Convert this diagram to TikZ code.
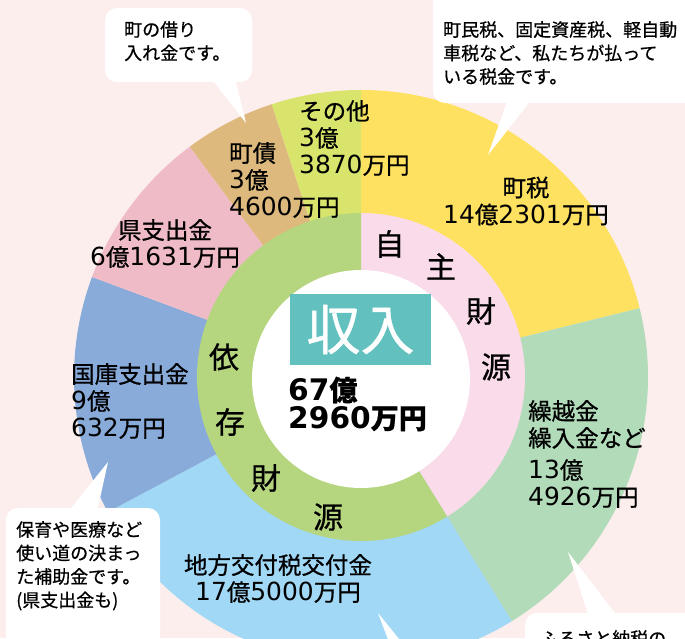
\documentclass[tikz,border=0pt]{standalone}
\usepackage{fontspec}
\setmainfont{Noto Sans CJK JP}[RawFeature={embolden=0.7}]
\newfontfamily\digitfont{DejaVu Sans}[Scale=1.06]
\newcommand\kazu[1]{{\digitfont#1}}
\definecolor{bgpink}{HTML}{FDEEEE}
\definecolor{yel}{HTML}{FFE161}
\definecolor{mint}{HTML}{B2DBBA}
\definecolor{sky}{HTML}{A0D8F5}
\definecolor{navy}{HTML}{88ABDA}
\definecolor{rose}{HTML}{EEBBC7}
\definecolor{tan}{HTML}{DEB97D}
\definecolor{lime}{HTML}{D8E46B}
\definecolor{pinkin}{HTML}{F9DBEA}
\definecolor{greenin}{HTML}{B5D67F}
\definecolor{tealbox}{HTML}{62C1BF}
\begin{document}
\begin{tikzpicture}[x=1pt,y=1pt, line join=round, line cap=round,
	lbl/.style={inner sep=0pt, font=\fontsize{23.5}{27}\selectfont},
	ringchar/.style={inner sep=0pt, font=\fontsize{30}{30}\selectfont},
	saybox/.style={fill=white, rounded corners=12pt},
	saytext/.style={inner sep=0pt, anchor=north west, align=left, font=\fontsize{18}{23.5}\selectfont}]
	\useasboundingbox (0,0) rectangle (685,638);
	\clip (0,0) rectangle (685,638);
	\fill[bgpink] (0,0) rectangle (685,638);
	\coordinate (O) at (361,261);
	\newdimen\R
	\R=287pt
	\foreach \a/\b/\c in
	{ 90/13.88/yel,
		13.88/-58.30/mint,
		-58.30/-151.92/sky,
		-151.92/-200.40/navy,
		-200.40/-233.37/rose,
		-233.37/-251.88/tan,
		-251.88/-270/lime}
	\fill[\c] (O) -- ++(\a:\R) arc[start angle=\a, end angle=\b, radius=\R] -- cycle;
	\fill[pinkin] (O) -- ++(90:164) arc[start angle=90, end angle=-58.30, radius=164] -- cycle;
	\fill[greenin] (O) -- ++(-58.30:164) arc[start angle=-58.30, end angle=-270, radius=164] -- cycle;
	\fill[white] (361,259) circle[radius=109];
	\node[fill=tealbox, minimum width=141pt, minimum height=71pt, inner sep=0pt, text=white, font=\fontsize{54}{54}\selectfont] (title) at (360.5,308.5) {収入};
	\node[inner sep=0pt, anchor=west, align=left, font=\bfseries\fontsize{28}{28}\selectfont] (total) at (288,234) {\kazu{67}億\\\kazu{2960}万円};
	\foreach \x/\y/\t in {389.5/394/自, 441/371.5/主, 481/327/財, 496/271/源, 224/281/依, 230/216/存, 266/160/財, 328/121/源}
	\node[ringchar] (ring-\x) at (\x,\y) {\t};
	\node[lbl, anchor=west, align=left] (other) at (299,500) {その他\\\kazu{3}億\\\kazu{3870}万円};
	\node[lbl, anchor=west, align=left] (bond) at (229,458) {町債\\\kazu{3}億\\\kazu{4600}万円};
	\node[lbl, align=center] (tax) at (526,437) {町税\\\kazu{14}億\kazu{2301}万円};
	\node[lbl, align=center] (pref) at (165,394.5) {県支出金\\\kazu{6}億\kazu{1631}万円};
	\node[lbl, anchor=west, align=left] (nat) at (71,237) {国庫支出金\\\kazu{9}億\\\kazu{632}万円};
	\node[lbl, anchor=west, align=left] (carry) at (528,184) {繰越金\\繰入金など\\[5pt]\kazu{13}億\\\kazu{4926}万円};
	\node[lbl, align=center] (grant) at (278,59.5) {地方交付税交付金\\\kazu{17}億\kazu{5000}万円};
	\fill[saybox] (105,556) rectangle (252,630);
	\fill[white] (211,560) -- (235,560) -- (246,515) -- cycle;
	\node[saytext] (say-bond) at (124,617) {町の借り\\入れ金です。};
	\fill[saybox] (433,535) rectangle (700,650);
	\fill[white] (508,539) -- (532,539) -- (488,483) -- cycle;
	\node[saytext] (say-tax) at (443,617) {町民税、固定資産税、軽自動\\車税など、私たちが払って\\いる税金です。};
	\fill[saybox] (6,-30) rectangle (160,130);
	\fill[white] (68,126) -- (97,126) -- (108,176) -- cycle;
	\node[saytext] (say-nat) at (16,117) {保育や医療など\\使い道の決まっ\\た補助金です。\\(県支出金も)};
	\fill[saybox] (525,-62) rectangle (700,25);
	\fill[white] (589,21) -- (618,21) -- (568,86) -- cycle;
	\node[saytext] (say-carry) at (540,8) {ふるさと納税の};
	\fill[white] (378,25) -- (392,-12) -- (408,-12) -- cycle;
\end{tikzpicture}
\end{document}
